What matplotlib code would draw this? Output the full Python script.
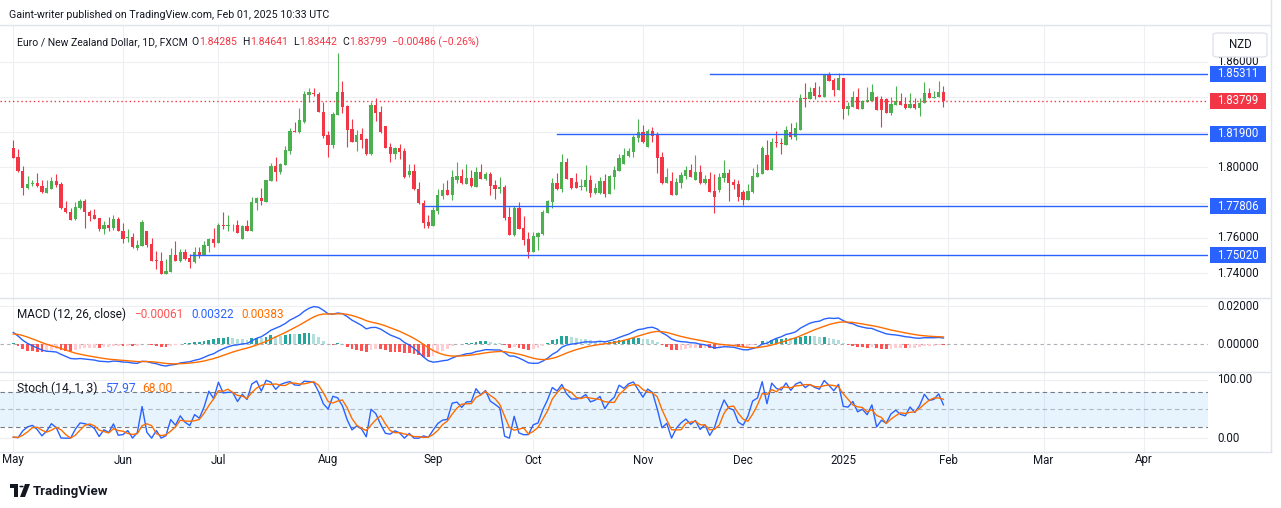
import matplotlib
matplotlib.use('Agg')
import matplotlib.pyplot as plt
import matplotlib.transforms as mtransforms
from matplotlib.patches import Rectangle, FancyBboxPatch, Polygon, Circle
from matplotlib.lines import Line2D
import numpy as np
import pandas as pd

plt.rcParams['font.family'] = ['Roboto', 'DejaVu Sans']

# EUR/NZD daily candles (FXCM), 2024-05-01 .. 2025-01-31
opens = [1.8111, 1.8059, 1.7980, 1.7885, 1.7904, 1.7912, 1.7895, 1.7857, 1.7880, 1.7923,
         1.7906, 1.7770, 1.7747, 1.7707, 1.7770, 1.7809, 1.7747, 1.7730, 1.7713, 1.7652,
         1.7673, 1.7657, 1.7707, 1.7636, 1.7600, 1.7604, 1.7544, 1.7556, 1.7638, 1.7565,
         1.7474, 1.7468, 1.7397, 1.7406, 1.7503, 1.7466, 1.7520, 1.7486, 1.7463, 1.7520,
         1.7501, 1.7554, 1.7593, 1.7573, 1.7673, 1.7669, 1.7671, 1.7673, 1.7595, 1.7667,
         1.7641, 1.7800, 1.7828, 1.7805, 1.7923, 1.8008, 1.7975, 1.8014, 1.8093, 1.8207,
         1.8202, 1.8260, 1.8413, 1.8425, 1.8417, 1.8314, 1.8185, 1.8129, 1.8300, 1.8429,
         1.8350, 1.8219, 1.8145, 1.8190, 1.8162, 1.8076, 1.8355, 1.8316, 1.8236, 1.8116,
         1.8076, 1.8111, 1.8093, 1.7958, 1.7980, 1.7878, 1.7798, 1.7690, 1.7667, 1.7754,
         1.7840, 1.7872, 1.7844, 1.7929, 1.7952, 1.7908, 1.7940, 1.7891, 1.7975, 1.7935,
         1.7963, 1.7901, 1.7878, 1.7889, 1.7718, 1.7617, 1.7770, 1.7656, 1.7593, 1.7521,
         1.7604, 1.7621, 1.7741, 1.7804, 1.7912, 1.7878, 1.8031, 1.7940, 1.7918, 1.7889,
         1.7889, 1.7929, 1.7855, 1.7855, 1.7923, 1.7850, 1.7946, 1.7980, 1.8019, 1.8065,
         1.8088, 1.8168, 1.8202, 1.8118, 1.8207, 1.8185, 1.8059, 1.7912, 1.7923, 1.7844,
         1.7912, 1.7952, 1.7986, 1.7929, 1.7975, 1.7909, 1.7935, 1.7866, 1.7872, 1.7940,
         1.7969, 1.7918, 1.7906, 1.7861, 1.7815, 1.7861, 1.7946, 1.7963, 1.8071, 1.7986,
         1.8145, 1.8139, 1.8129, 1.8202, 1.8170, 1.8215, 1.8395, 1.8389, 1.8452, 1.8412,
         1.8401, 1.8526, 1.8497, 1.8440, 1.8508, 1.8332, 1.8344, 1.8401, 1.8332, 1.8372,
         1.8378, 1.8401, 1.8389, 1.8389, 1.8310, 1.8355, 1.8378, 1.8361, 1.8338, 1.8361,
         1.8338, 1.8367, 1.8423, 1.8395, 1.8401, 1.84285]
highs = [1.8156, 1.8105, 1.8008, 1.7952, 1.7929, 1.7969, 1.7929, 1.7929, 1.7946, 1.7963,
         1.7918, 1.7809, 1.7771, 1.7804, 1.7823, 1.7821, 1.7758, 1.7764, 1.7715, 1.7695,
         1.7718, 1.7730, 1.7718, 1.7684, 1.7650, 1.7627, 1.7588, 1.7701, 1.7640, 1.7599,
         1.7525, 1.7520, 1.7480, 1.7544, 1.7582, 1.7537, 1.7537, 1.7508, 1.7548, 1.7548,
         1.7582, 1.7600, 1.7656, 1.7684, 1.7747, 1.7730, 1.7678, 1.7701, 1.7675, 1.7701,
         1.7832, 1.7834, 1.7885, 1.7931, 1.8027, 1.8057, 1.8023, 1.8124, 1.8225, 1.8259,
         1.8339, 1.8434, 1.8452, 1.8450, 1.8429, 1.8374, 1.8207, 1.8316, 1.8651, 1.8491,
         1.8352, 1.8276, 1.8213, 1.8225, 1.8168, 1.8372, 1.8395, 1.8350, 1.8238, 1.8137,
         1.8116, 1.8133, 1.8111, 1.8019, 1.8019, 1.7918, 1.7815, 1.7730, 1.7777, 1.7878,
         1.7914, 1.7929, 1.7986, 1.8031, 1.7991, 1.8019, 1.7986, 1.8003, 1.8019, 1.7975,
         1.7975, 1.7929, 1.7946, 1.7901, 1.7775, 1.7781, 1.7804, 1.7724, 1.7633, 1.7633,
         1.7633, 1.7758, 1.7815, 1.7940, 1.7969, 1.8076, 1.8054, 1.7942, 1.7969, 1.7935,
         1.8014, 1.7958, 1.7912, 1.7946, 1.7963, 1.7958, 1.8008, 1.8076, 1.8111, 1.8111,
         1.8185, 1.8276, 1.8242, 1.8219, 1.8230, 1.8202, 1.8088, 1.7997, 1.7975, 1.7940,
         1.7975, 1.8008, 1.8019, 1.8071, 1.8014, 1.7958, 1.7975, 1.7963, 1.7969, 1.8042,
         1.7991, 1.7935, 1.7929, 1.7872, 1.7906, 1.7997, 1.8019, 1.8122, 1.8156, 1.8168,
         1.8207, 1.8168, 1.8236, 1.8253, 1.8259, 1.8417, 1.8480, 1.8457, 1.8486, 1.8463,
         1.8531, 1.8543, 1.8508, 1.8537, 1.8510, 1.8372, 1.8434, 1.8452, 1.8384, 1.8457,
         1.8474, 1.8403, 1.8406, 1.8395, 1.8401, 1.8463, 1.8423, 1.8401, 1.8423, 1.8395,
         1.8395, 1.8486, 1.8452, 1.8434, 1.8491, 1.84641]
lows = [1.8053, 1.7975, 1.7845, 1.7880, 1.7895, 1.7891, 1.7857, 1.7856, 1.7879, 1.7891,
        1.7765, 1.7743, 1.7703, 1.7703, 1.7766, 1.7656, 1.7693, 1.7708, 1.7640, 1.7623,
        1.7640, 1.7646, 1.7640, 1.7573, 1.7575, 1.7544, 1.7531, 1.7555, 1.7550, 1.7470,
        1.7423, 1.7396, 1.7396, 1.7405, 1.7470, 1.7463, 1.7474, 1.7430, 1.7459, 1.7487,
        1.7500, 1.7521, 1.7550, 1.7572, 1.7652, 1.7640, 1.7640, 1.7629, 1.7594, 1.7640,
        1.7640, 1.7760, 1.7788, 1.7804, 1.7922, 1.7925, 1.7963, 1.8013, 1.8078, 1.8200,
        1.8198, 1.8255, 1.8374, 1.8406, 1.8312, 1.8168, 1.8061, 1.8111, 1.8299, 1.8310,
        1.8118, 1.8145, 1.8093, 1.8111, 1.8071, 1.8071, 1.8264, 1.8196, 1.8111, 1.8032,
        1.8050, 1.8050, 1.7942, 1.7948, 1.7874, 1.7794, 1.7656, 1.7656, 1.7666, 1.7735,
        1.7823, 1.7844, 1.7817, 1.7914, 1.7908, 1.7907, 1.7891, 1.7890, 1.7935, 1.7929,
        1.7844, 1.7821, 1.7855, 1.7701, 1.7617, 1.7612, 1.7650, 1.7561, 1.7487, 1.7520,
        1.7533, 1.7617, 1.7740, 1.7770, 1.7872, 1.7861, 1.7935, 1.7878, 1.7883, 1.7872,
        1.7866, 1.7832, 1.7850, 1.7850, 1.7832, 1.7849, 1.7878, 1.7979, 1.8018, 1.8059,
        1.8059, 1.8145, 1.8139, 1.8117, 1.8146, 1.7971, 1.7908, 1.7911, 1.7844, 1.7843,
        1.7884, 1.7935, 1.7946, 1.7928, 1.7908, 1.7908, 1.7861, 1.7741, 1.7861, 1.7918,
        1.7809, 1.7878, 1.7809, 1.7787, 1.7814, 1.7855, 1.7945, 1.7962, 1.7986, 1.7985,
        1.8116, 1.8076, 1.8128, 1.8164, 1.8158, 1.8214, 1.8344, 1.8388, 1.8389, 1.8400,
        1.8400, 1.8491, 1.8406, 1.8439, 1.8276, 1.8299, 1.8343, 1.8332, 1.8331, 1.8371,
        1.8377, 1.8327, 1.8230, 1.8310, 1.8299, 1.8354, 1.8355, 1.8332, 1.8337, 1.8332,
        1.8293, 1.8366, 1.8395, 1.8394, 1.8400, 1.83442]
closes = [1.8055, 1.7977, 1.7885, 1.7906, 1.7914, 1.7892, 1.7858, 1.7884, 1.7923, 1.7902,
          1.7767, 1.7744, 1.7704, 1.7773, 1.7809, 1.7744, 1.7726, 1.7709, 1.7650, 1.7673,
          1.7657, 1.7707, 1.7641, 1.7595, 1.7606, 1.7545, 1.7560, 1.7690, 1.7561, 1.7471,
          1.7468, 1.7397, 1.7411, 1.7503, 1.7471, 1.7520, 1.7480, 1.7463, 1.7520, 1.7501,
          1.7560, 1.7593, 1.7573, 1.7673, 1.7669, 1.7673, 1.7674, 1.7630, 1.7669, 1.7641,
          1.7804, 1.7828, 1.7809, 1.7929, 1.8008, 1.7976, 1.8019, 1.8099, 1.8207, 1.8202,
          1.8270, 1.8417, 1.8429, 1.8417, 1.8313, 1.8181, 1.8129, 1.8304, 1.8429, 1.8346,
          1.8215, 1.8146, 1.8185, 1.8156, 1.8076, 1.8355, 1.8310, 1.8202, 1.8112, 1.8076,
          1.8111, 1.8089, 1.7943, 1.7980, 1.7875, 1.7795, 1.7686, 1.7667, 1.7758, 1.7844,
          1.7872, 1.7845, 1.7946, 1.7952, 1.7909, 1.7940, 1.7892, 1.7975, 1.7936, 1.7963,
          1.7895, 1.7878, 1.7889, 1.7713, 1.7618, 1.7770, 1.7651, 1.7589, 1.7521, 1.7610,
          1.7627, 1.7747, 1.7809, 1.7912, 1.7878, 1.8031, 1.7936, 1.7884, 1.7884, 1.7895,
          1.7929, 1.7855, 1.7884, 1.7923, 1.7850, 1.7952, 1.7986, 1.8054, 1.8071, 1.8093,
          1.8173, 1.8202, 1.8145, 1.8207, 1.8181, 1.8055, 1.7912, 1.7946, 1.7845, 1.7918,
          1.7958, 1.7986, 1.7947, 1.7975, 1.7909, 1.7935, 1.7862, 1.7832, 1.7946, 1.7969,
          1.7912, 1.7901, 1.7832, 1.7815, 1.7866, 1.7952, 1.7969, 1.8111, 1.7987, 1.8145,
          1.8139, 1.8135, 1.8213, 1.8170, 1.8225, 1.8395, 1.8389, 1.8429, 1.8406, 1.8401,
          1.8526, 1.8492, 1.8440, 1.8508, 1.8332, 1.8350, 1.8401, 1.8333, 1.8378, 1.8384,
          1.8429, 1.8328, 1.8327, 1.8311, 1.8361, 1.8378, 1.8356, 1.8338, 1.8361, 1.8338,
          1.8367, 1.8423, 1.8396, 1.8401, 1.8429, 1.83799]

# exchange closed on these days (no bar)
holidays = ['2024-12-25', '2025-01-01']

# horizontal levels drawn on the chart and the day each one starts
levels = [1.85311, 1.81900, 1.77806, 1.75020]
level_start = ['2024-11-21', '2024-10-08', '2024-08-29', '2024-06-21']
last_price = 1.83799

# indicator state just before the first visible bar
ema12_seed = 1.8172
ema26_seed = 1.8095
signal_seed = 0.0052

UP = '#4CAF50'
DOWN = '#F23645'
BLUE = '#2962FF'
ORANGE = '#FF6D00'
TXT = '#131722'
GRID = '#EEEFF2'

W, H = 1281, 508
RIGHT = 1208          # pixel x where the price scale starts
X0, STEP = 13.3, 4.77  # pixel x of first bar and bar spacing
LBL_X = 1217          # pixel x of scale labels

def fx(px):
    return px / W

def fy(py):
    return 1 - py / H

# trading days incl. future area
dates = pd.bdate_range('2024-05-01', '2025-04-30')
dates = dates[~dates.isin(pd.to_datetime(holidays))]
mon = pd.Series(dates.to_period('M'))
month_idx = np.flatnonzero(mon.ne(mon.shift()).to_numpy())
month_lbl = [str(dates[i].year) if dates[i].month == 1 else dates[i].strftime('%b') for i in month_idx]

o = np.array(opens)
h = np.array(highs)
l = np.array(lows)
c = np.array(closes)
x = np.arange(len(c))

# MACD (12, 26, 9)
def ema(values, n, seed):
    k = 2.0 / (n + 1)
    out = []
    prev = seed
    for v in values:
        prev = prev + k * (v - prev)
        out.append(prev)
    return np.array(out)

macd = ema(c, 12, ema12_seed) - ema(c, 26, ema26_seed)
signal = ema(macd, 9, signal_seed)
hist = macd - signal

# Stoch (14, 1, 3)
hh = pd.Series(h).rolling(14, min_periods=1).max()
ll = pd.Series(l).rolling(14, min_periods=1).min()
k_line = 100 * (pd.Series(c) - ll) / (hh - ll)
d_line = k_line.rolling(3, min_periods=1).mean()

fig = plt.figure(figsize=(W / 100, H / 100), dpi=100)
fig.patch.set_facecolor('white')
renderer = fig.canvas.get_renderer()

def pane(top, bottom):
    return fig.add_axes([0, 1 - bottom / H, RIGHT / W, (bottom - top) / H])

ax_p = pane(25, 298)
ax_m = pane(298, 372)
ax_s = pane(372, 452)

xlim = (-X0 / STEP, (RIGHT - X0) / STEP)
for ax in (ax_p, ax_m, ax_s):
    ax.set_xlim(*xlim)
    ax.set_xticks([])
    ax.set_yticks([])
    for s in ax.spines.values():
        s.set_visible(False)
    for i in month_idx:
        ax.axvline(i, color=GRID, lw=0.8, zorder=0)

# price pane
ax_p.set_ylim(1.72580, 1.88091)
for v in [1.74, 1.76, 1.78, 1.80, 1.82, 1.84, 1.86]:
    ax_p.axhline(v, color=GRID, lw=0.8, zorder=0)

col = np.where(c >= o, UP, DOWN)
ax_p.vlines(x, l, h, colors=col, lw=0.8, zorder=2)
ax_p.bar(x, np.maximum(np.abs(c - o), 0.0003), 0.68, bottom=np.minimum(o, c),
         color=col, lw=0, zorder=3)

for lev, start in zip(levels, level_start):
    i0 = dates.get_loc(pd.Timestamp(start))
    ax_p.plot([i0, xlim[1]], [lev, lev], color=BLUE, lw=1.0, zorder=4)
ax_p.axhline(last_price, color=DOWN, lw=1.0, ls=(0, (1, 2)), zorder=4)

tp = mtransforms.blended_transform_factory(ax_p.transAxes, ax_p.transData)
for v in [1.74, 1.76, 1.80, 1.86]:
    ax_p.text(LBL_X / RIGHT, v, '%.5f' % v, transform=tp, ha='left', va='center',
              fontsize=8.3, color=TXT, clip_on=False, zorder=5)
px_per_price = 273 / (1.88091 - 1.72580)
for lev, bg in zip(levels + [last_price], [BLUE] * 4 + [DOWN]):
    ax_p.add_patch(Rectangle((1210 / RIGHT, lev - 8 / px_per_price), 56 / RIGHT,
                             16 / px_per_price, transform=tp, facecolor=bg,
                             edgecolor='none', clip_on=False, zorder=6))
    ax_p.text(1238 / RIGHT, lev, '%.5f' % lev, transform=tp, ha='center', va='center',
              fontsize=8.3, color='white', clip_on=False, zorder=7)

# MACD pane
ax_m.set_ylim(-0.01446, 0.02418)
ax_m.axhline(0.02, color=GRID, lw=0.8, zorder=0)
ax_m.axhline(0, color='#787B86', lw=0.8, ls=(0, (3, 3)), alpha=0.6, zorder=1)
prev = np.concatenate([[hist[0]], hist[:-1]])
hcol = np.where(hist >= 0, np.where(hist >= prev, '#26A69A', '#B2DFDB'),
                np.where(hist < prev, '#FF5252', '#FFCDD2'))
ax_m.bar(x, hist, 0.58, color=hcol, lw=0, zorder=2)
ax_m.plot(x, macd, color=BLUE, lw=1.0, zorder=3)
ax_m.plot(x, signal, color=ORANGE, lw=1.0, zorder=3)
tm = mtransforms.blended_transform_factory(ax_m.transAxes, ax_m.transData)
for v in [0.0, 0.02]:
    ax_m.text(LBL_X / RIGHT, v, '%.5f' % v, transform=tm, ha='left', va='center',
              fontsize=8.3, color=TXT, clip_on=False)

# Stoch pane
ax_s.set_ylim(-23.5, 113.7)
ax_s.axhline(100, color=GRID, lw=0.8, zorder=0)
ax_s.axhline(0, color=GRID, lw=0.8, zorder=0)
ax_s.axhspan(20, 80, color='#2196F3', alpha=0.1, lw=0, zorder=0)
ax_s.axhline(80, color='#787B86', lw=0.8, ls=(0, (4, 3)), zorder=1)
ax_s.axhline(20, color='#787B86', lw=0.8, ls=(0, (4, 3)), zorder=1)
ax_s.axhline(50, color='#787B86', lw=0.8, ls=(0, (4, 3)), alpha=0.5, zorder=1)
ax_s.plot(x, k_line, color=BLUE, lw=1.0, zorder=3)
ax_s.plot(x, d_line, color=ORANGE, lw=1.0, zorder=3)
ts = mtransforms.blended_transform_factory(ax_s.transAxes, ax_s.transData)
for v in [0, 100]:
    ax_s.text(LBL_X / RIGHT, v, '%.2f' % v, transform=ts, ha='left', va='center',
              fontsize=8.3, color=TXT, clip_on=False)

# pane separators and borders
for yy in (25, 298, 372, 452):
    fig.add_artist(Line2D([0, fx(1271)], [fy(yy), fy(yy)], color='#E0E3EB', lw=1.0))
fig.add_artist(Line2D([fx(1271), fx(1271)], [fy(0), fy(452)], color='#E0E3EB', lw=1.0))

# time axis labels
for i, lab in zip(month_idx, month_lbl):
    px = X0 + STEP * i
    if px > RIGHT:
        continue
    fig.text(fx(max(px, 13)), fy(460), lab, ha='center', va='center', fontsize=8.3, color=TXT)

# header and legends, pieces placed one after another
fig.text(fx(9), fy(15), 'Gaint-writer published on TradingView.com, Feb 01, 2025 10:33 UTC',
         ha='left', va='center', fontsize=7.7, color=TXT)

def chain(pieces, px, py, size):
    for s, cc, gap in pieces:
        t = fig.text(fx(px), fy(py), s, ha='left', va='center', fontsize=size, color=cc)
        px = t.get_window_extent(renderer=renderer).x1 + gap

chain([('Euro / New Zealand Dollar, 1D, FXCM', TXT, 4),
       ('O', TXT, 0.5), ('1.84285', DOWN, 5),
       ('H', TXT, 0.5), ('1.84641', DOWN, 5),
       ('L', TXT, 0.5), ('1.83442', DOWN, 5),
       ('C', TXT, 0.5), ('1.83799', DOWN, 5),
       ('\u22120.00486 (\u22120.26%)', DOWN, 0)], 17, 42, 7.5)
chain([('MACD (12, 26, close)', TXT, 8), ('\u22120.00061', '#FF5252', 8),
       ('0.00322', BLUE, 8), ('0.00383', ORANGE, 0)], 17, 314, 8.5)
chain([('Stoch (14, 1, 3)', TXT, 8), ('57.97', BLUE, 6), ('68.00', ORANGE, 0)], 17, 388, 8.7)

# currency box
fig.add_artist(FancyBboxPatch((fx(1213), fy(57)), fx(54), 24 / H,
                              boxstyle='round,pad=0,rounding_size=0.004',
                              facecolor='white', edgecolor='#E0E3EB', lw=1.0, zorder=10))
fig.text(fx(1240), fy(45), 'NZD', ha='center', va='center', fontsize=8.3, color=TXT, zorder=11)

# TradingView logo
fig.add_artist(Polygon([(fx(10), fy(484)), (fx(18), fy(484)), (fx(18), fy(497)),
                        (fx(14), fy(497)), (fx(14), fy(488)), (fx(10), fy(488))],
                       closed=True, facecolor=TXT, edgecolor='none'))
fig.add_artist(Circle((fx(21.5), fy(486.5)), 2.2 / W, facecolor=TXT, edgecolor='none'))
fig.add_artist(Polygon([(fx(25), fy(484)), (fx(30), fy(484)), (fx(25), fy(497)), (fx(20), fy(497))],
                       closed=True, facecolor=TXT, edgecolor='none'))
fig.text(fx(33), fy(491), 'TradingView', ha='left', va='center', fontsize=9.5,
         fontweight='bold', color=TXT)

fig.savefig('out.png', dpi=100)
